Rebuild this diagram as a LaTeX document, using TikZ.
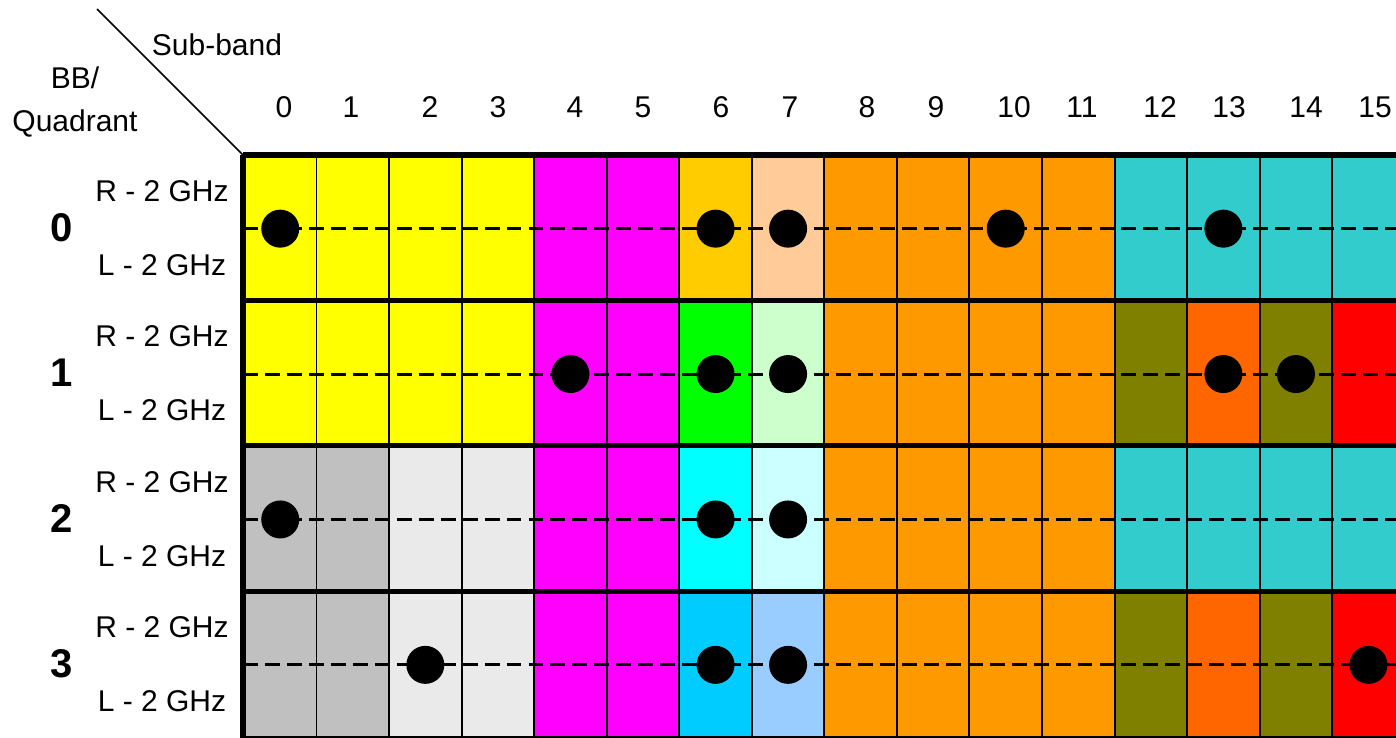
\documentclass[tikz,border=0pt]{standalone}
\usepackage{fontspec}
\setmainfont{Liberation Sans}
\usepackage{xcolor}
\usetikzlibrary{positioning}

\definecolor{yel}{HTML}{FFFF00}
\definecolor{mag}{HTML}{FF00FF}
\definecolor{gold}{HTML}{FFCC00}
\definecolor{peach}{HTML}{FFCC99}
\definecolor{org}{HTML}{FF9900}
\definecolor{teal}{HTML}{33CCCC}
\definecolor{grn}{HTML}{00FF00}
\definecolor{ltgrn}{HTML}{CCFFCC}
\definecolor{olv}{HTML}{808000}
\definecolor{dkorg}{HTML}{FF6600}
\definecolor{rd}{HTML}{FF0000}
\definecolor{gry}{HTML}{C0C0C0}
\definecolor{ltgry}{HTML}{EAEAEA}
\definecolor{cyn}{HTML}{00FFFF}
\definecolor{ltcyn}{HTML}{CCFFFF}
\definecolor{sky}{HTML}{00CCFF}
\definecolor{ltblu}{HTML}{99CCFF}

\begin{document}
\begin{tikzpicture}[
    x=0.02cm, y=-0.02cm,
    font=\fontsize{17.07}{20}\selectfont,
    cell/.style={rectangle, draw, line width=1.1pt, inner sep=0pt, minimum width=1.451cm, minimum height=2.908cm, anchor=north west},
    rowline/.style={line width=2.9pt},
    dashline/.style={line width=1.7pt, dash pattern=on 8.5pt off 4pt},
    dot/.style={circle, fill=black, inner sep=0pt, minimum size=0.76cm},
    quad/.style={font=\fontsize{22.8}{26}\selectfont\bfseries},
]
    \useasboundingbox (0,0) rectangle (1396,737);
    \clip (0,0) rectangle (1396,737);

    % grid cells
    \foreach \clr [count=\c from 0] in {yel,yel,yel,yel,mag,mag,gold,peach,org,org,org,org,teal,teal,teal,teal}
        \node[cell, fill=\clr] (c0-\c) at (243+\c*72.55, 155) {};
    \foreach \clr [count=\c from 0] in {yel,yel,yel,yel,mag,mag,grn,ltgrn,org,org,org,org,olv,dkorg,olv,rd}
        \node[cell, fill=\clr] (c1-\c) at (243+\c*72.55, 300.4) {};
    \foreach \clr [count=\c from 0] in {gry,gry,ltgry,ltgry,mag,mag,cyn,ltcyn,org,org,org,org,teal,teal,teal,teal}
        \node[cell, fill=\clr] (c2-\c) at (243+\c*72.55, 445.8) {};
    \foreach \clr [count=\c from 0] in {gry,gry,ltgry,ltgry,mag,mag,sky,ltblu,org,org,org,org,olv,dkorg,olv,rd}
        \node[cell, fill=\clr] (c3-\c) at (243+\c*72.55, 591.2) {};

    % thick row borders
    \foreach \r in {0,...,3}
        \draw[rowline] (c\r-0.north west) -- (c\r-15.north east);
    \draw[rowline] (c3-0.south west) -- (c3-15.south east);
    \draw[rowline] (c0-0.north west) -- (c3-0.south west);

    % dashed centre lines
    \foreach \r in {0,...,3}
        \draw[dashline] (c\r-0.west) -- (c\r-15.east);

    % dots
    \foreach \c in {0,6,7,10,13}
        \node[dot] (d0-\c) at (c0-\c) {};
    \foreach \c in {4,6,7,13,14}
        \node[dot] (d1-\c) at (c1-\c) {};
    \foreach \c in {0,6,7}
        \node[dot] (d2-\c) at (c2-\c) {};
    \foreach \c in {2,6,7,15}
        \node[dot] (d3-\c) at (c3-\c) {};

    % header
    \coordinate (diag) at (97,9);
    \draw[line width=0.9pt] (diag) -- (c0-0.north west);
    \node (sub) at (217,45) {Sub-band};
    \node[align=center, font=\fontsize{17.07}{24.5}\selectfont] (bbq) at (75,101.5) {BB/\\Quadrant};
    \foreach \n/\x in {0/284,1/351,2/430,3/498,4/575,5/643,6/721,7/790,8/867,9/936,10/1014,11/1082,12/1160,13/1229,14/1306,15/1375}
        \node (h\n) at (\x,107) {\n};

    % row labels
    \foreach \r in {0,...,3} {
        \node[quad] (q\r) at (62, 227.7+\r*145.4) {\r};
        \node (r\r) at (162, 191+\r*145.4) {R - 2 GHz};
        \node (l\r) at (162, 265+\r*145.4) {L - 2 GHz};
    }
\end{tikzpicture}
\end{document}
